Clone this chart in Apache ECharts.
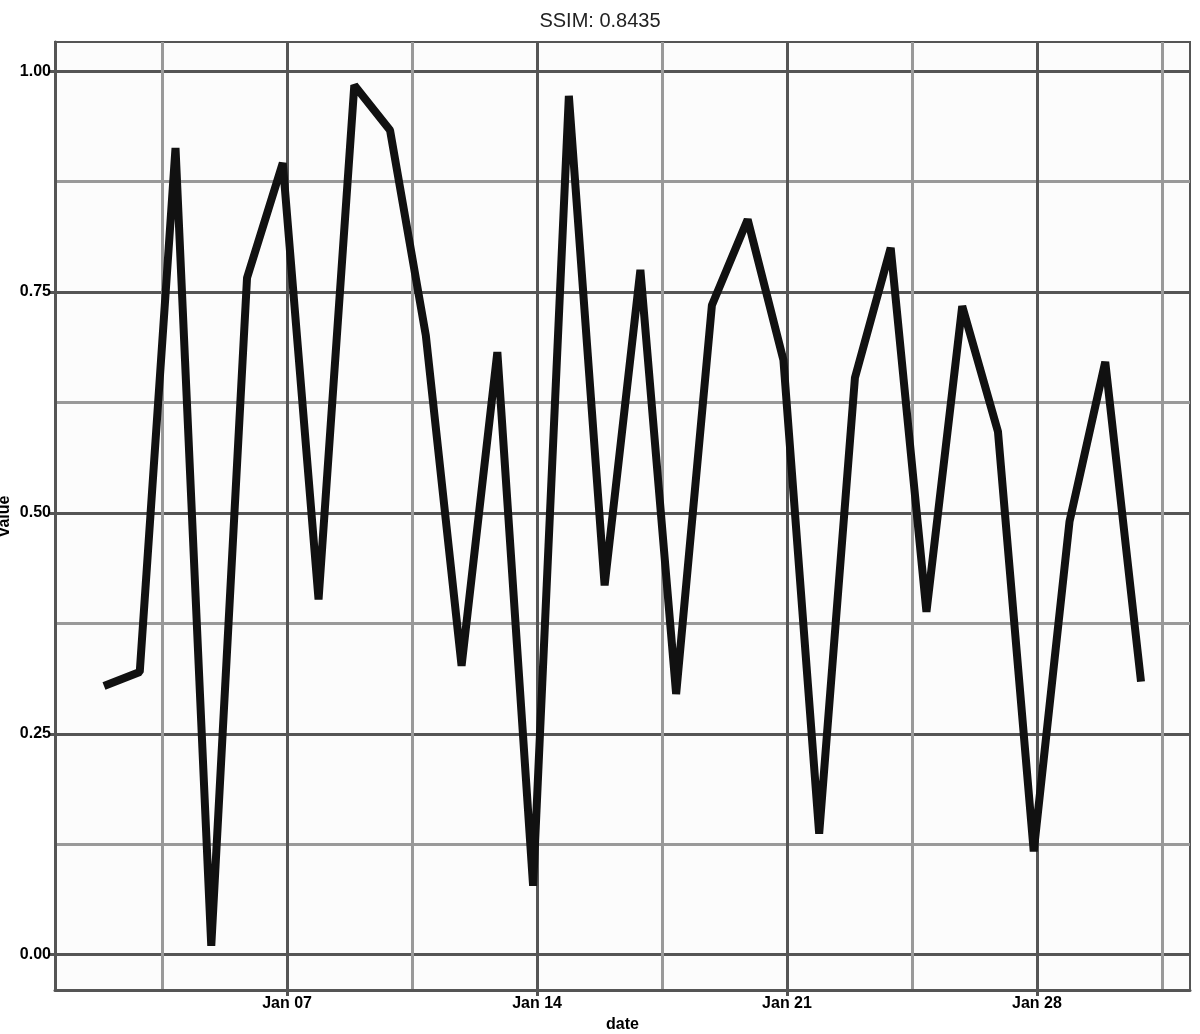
<!DOCTYPE html>
<html>
<head>
<meta charset="utf-8">
<script src="https://cdn.jsdelivr.net/npm/echarts@6/dist/echarts.min.js"></script>
<style>html,body{margin:0;padding:0;background:#fff}#c{width:1200px;height:1034px}</style>
</head>
<body>
<div id="c"></div>
<script>
// Data
const days = [1,2,3,4,5,6,7,8,9,10,11,12,13,14,15,16,17,18,19,20,21,22,23,24,25,26,27,28,29,30];
const values = [0.304,0.320,0.913,0.010,0.766,0.896,0.402,0.984,0.933,0.701,0.327,0.682,0.078,0.972,0.418,0.775,0.295,0.735,0.832,0.673,0.137,0.653,0.800,0.388,0.734,0.592,0.117,0.490,0.671,0.309];
const xMajorTicks = [6.12, 13.11, 20.10, 27.09];
const xTickLabels = ['Jan 07', 'Jan 14', 'Jan 21', 'Jan 28'];
const xMinorTicks = [2.62, 9.61, 16.60, 23.60, 30.59];
const yMajorTicks = [0, 0.25, 0.5, 0.75, 1.0];
const yTickLabels = ['0.00', '0.25', '0.50', '0.75', '1.00'];
const yMinorTicks = [0.125, 0.375, 0.625, 0.875];

const chart = echarts.init(document.getElementById('c'));
const labelStyle = {color:'#000', fontSize:16, fontWeight:'bold', fontFamily:'Liberation Sans'};
chart.setOption({
  animation:false,
  backgroundColor:'#fff',
  title:{text:'SSIM: 0.8435', left:'center', top:6, textStyle:{fontFamily:'Liberation Sans', fontSize:20, fontWeight:'normal', color:'#222'}},
  grid:{left:55, right:10, top:42, bottom:44, outerBoundsMode:'none', containLabel:false, show:true, backgroundColor:'#fcfcfc', borderColor:'#555', borderWidth:2},
  xAxis:[{
    type:'value', min:-0.37, max:31.37,
    name:'date', nameLocation:'middle', nameGap:26, nameTextStyle:labelStyle,
    axisLine:{show:true, onZero:false, lineStyle:{color:'#555', width:3}},
    axisTick:{show:true, customValues:xMajorTicks, length:6, lineStyle:{color:'#555', width:3}},
    axisLabel:{customValues:xMajorTicks, formatter:(v)=>{const i=xMajorTicks.findIndex(t=>Math.abs(t-v)<1e-6);return i>=0?xTickLabels[i]:'';}, ...labelStyle, margin:6},
    splitLine:{show:true, lineStyle:{color:'#555', width:3}}
  },{
    type:'value', min:-0.37, max:31.37, position:'top',
    axisLine:{show:false}, axisTick:{show:false, customValues:xMinorTicks},
    axisLabel:{show:false, customValues:xMinorTicks},
    splitLine:{show:true, lineStyle:{color:'#999', width:3}}
  }],
  yAxis:[{
    type:'value', min:-0.04, max:1.033,
    name:'value', nameLocation:'middle', nameGap:42, nameMoveOverlap:false, nameRotate:90, nameTextStyle:labelStyle,
    axisLine:{show:true, onZero:false, lineStyle:{color:'#555', width:3}},
    axisTick:{show:true, customValues:yMajorTicks, length:5, lineStyle:{color:'#555', width:3}},
    axisLabel:{customValues:yMajorTicks, formatter:(v)=>{const i=yMajorTicks.findIndex(t=>Math.abs(t-v)<1e-6);return i>=0?yTickLabels[i]:'';}, ...labelStyle, margin:4},
    splitLine:{show:true, lineStyle:{color:'#555', width:3}}
  },{
    type:'value', min:-0.04, max:1.033, position:'right',
    axisLine:{show:false}, axisTick:{show:false, customValues:yMinorTicks},
    axisLabel:{show:false, customValues:yMinorTicks},
    splitLine:{show:true, lineStyle:{color:'#999', width:3}}
  }],
  series:[{
    type:'line', xAxisIndex:0, yAxisIndex:0,
    data: days.map((d,i)=>[d, values[i]]),
    showSymbol:false, lineStyle:{color:'#111', width:8}, z:5
  }]
});
</script>
</body>
</html>
